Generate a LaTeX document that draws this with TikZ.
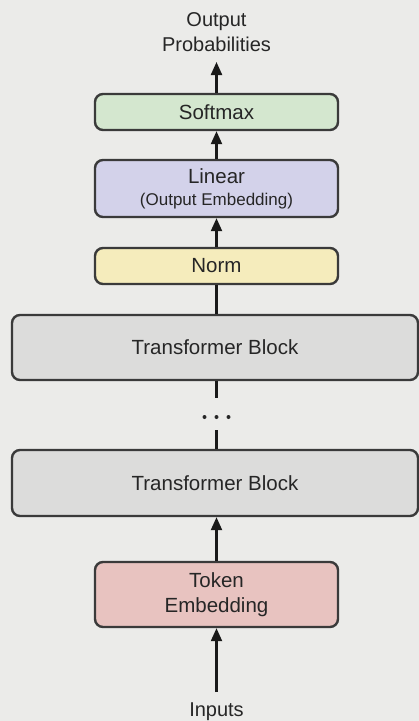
\documentclass[tikz,border=0pt]{standalone}
\usepackage{fontspec}
\setmainfont{Liberation Sans}
\usetikzlibrary{arrows.meta}

\definecolor{bgcol}{HTML}{EBEBE9}
\definecolor{edgecol}{HTML}{3A3A3A}
\definecolor{inkcol}{HTML}{262626}
\definecolor{softcol}{HTML}{D4E7CF}
\definecolor{lincol}{HTML}{D3D2EA}
\definecolor{normcol}{HTML}{F5ECBC}
\definecolor{blockcol}{HTML}{DCDCDB}
\definecolor{tokcol}{HTML}{E8C3C0}

\tikzset{
  box/.style={draw=edgecol, line width=2.4pt, rounded corners=8pt,
    text=inkcol, font=\fontsize{20.5}{25}\selectfont, align=center,
    inner sep=0pt},
  smallbox/.style={box, minimum width=243pt},
  widebox/.style={box, minimum width=406pt},
  label/.style={text=inkcol, font=\fontsize{20}{25}\selectfont,
    align=center},
  arr/.style={draw=black!90, line width=2.2pt,
    -{Triangle[length=13pt,width=11pt]}},
  link/.style={draw=black!90, line width=2.2pt},
}

\begin{document}
\begin{tikzpicture}[x=1pt,y=-1pt]
  % canvas
  \fill[bgcol] (0,0) rectangle (419,721);
  \useasboundingbox (0,0) rectangle (419,721);

  % stack of layers, from output (top) to input (bottom)
  \node[smallbox, fill=softcol, minimum height=36pt] (soft) at (216.5,112) {Softmax};
  \node[smallbox, fill=lincol, minimum height=57pt] (lin) at (216.5,188.5)
    {Linear\\[-3pt]{\fontsize{17}{18}\selectfont (Output Embedding)}};
  \node[smallbox, fill=normcol, minimum height=36pt] (norm) at (216.5,266) {Norm};
  \node[widebox, fill=blockcol, minimum height=65pt] (tbtop) at (215,347.5) {Transformer Block};
  \node[inner sep=0pt, minimum width=30pt, minimum height=32pt] (dots) at (216.5,414) {};
  \node[widebox, fill=blockcol, minimum height=66pt] (tbbot) at (215,483) {Transformer Block};
  \node[smallbox, fill=tokcol, minimum height=65pt] (tok) at (216.5,594.5)
    {Token\\Embedding};

  % ellipsis between the repeated blocks
  \foreach \dx in {-12,0,12}
    \fill[inkcol] ([xshift=\dx pt, yshift=-3pt]dots.center) circle (2pt);

  % outer labels
  \node[label, inner sep=10pt, anchor=south] (out) at (216.5,62) {Output\\Probabilities};
  \node[label, inner sep=11pt, anchor=north] (in) at (216.5,692) {Inputs};

  % data flow
  \draw[arr] (in.north) -- (tok.south);
  \draw[arr] (tok.north) -- (tok.north |- tbbot.south);
  \draw[link] (dots.south) -- (dots.south |- tbbot.north);
  \draw[link] (tbtop.south -| dots.north) -- (dots.north);
  \draw[link] (tbtop.north -| norm.south) -- (norm.south);
  \draw[arr] (norm.north) -- (lin.south);
  \draw[arr] (lin.north) -- (soft.south);
  \draw[arr] (soft.north) -- (out.south);
\end{tikzpicture}
\end{document}
